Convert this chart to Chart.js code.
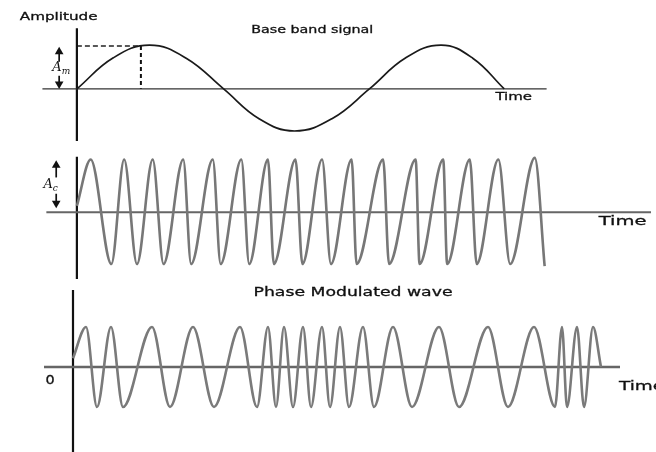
<!DOCTYPE html>
<html>
<head>
<meta charset="utf-8">
<title>Phase Modulation</title>
<script src="https://cdn.jsdelivr.net/npm/chart.js@4/dist/chart.umd.min.js"></script>
<style>
  html, body { margin: 0; padding: 0; background: #fff; }
  #wrap { position: relative; width: 656px; height: 452px; overflow: hidden; }
  #wrap canvas { position: absolute; left: 0; }
</style>
</head>
<body>
<div id="wrap">
  <canvas id="baseband" width="656" height="148" style="top:0"></canvas>
  <canvas id="carrier" width="656" height="136" style="top:148px"></canvas>
  <canvas id="pm" width="656" height="168" style="top:284px"></canvas>
</div>
<script>
// Signal en bande de base (temps relatif à l'axe vertical, amplitude en A_m)
const basebandTime = [0, 37, 74, 111, 149, 185, 221, 259, 297, 334, 370, 402, 434];
const basebandAmp  = [0, 0.71, 1, 0.7, 0, -0.68, -0.96, -0.68, 0, 0.71, 1, 0.7, 0];

// Porteuse : sommets et creux (amplitude en A_c)
const carrierTime = [0, 14, 35, 48, 61, 77, 88, 108, 116, 138, 146, 167, 175, 194, 200,
  222, 229, 249, 258, 279, 284, 311, 317, 344, 348, 372, 376, 399, 406, 428, 440, 465, 475];
const carrierAmp = [0.12, 1, -0.98, 1, -0.98, 1, -0.98, 1, -0.98, 1, -0.98, 1, -0.98, 1, -0.98,
  1, -0.98, 1, -0.98, 1, -0.98, 1, -0.98, 1, -0.98, 1, -0.98, 1, -0.98, 1, -0.98, 1.03, -1.02];

// Onde modulée en phase
const pmTime = [0, 13, 24, 38, 50, 79, 97, 120, 141, 167, 184, 195, 203, 211, 220, 230, 238,
  249, 257, 267, 276, 290, 301, 320, 339, 366, 386, 415, 435, 461, 482, 489, 494, 504, 511, 520, 528];
const pmAmp = [0.22, 1, -1, 1, -1, 1, -1, 1, -1, 1, -1, 1, -1, 1, -1, 1, -1,
  1, -1, 1, -1, 1, -1, 1, -1, 1, -1, 1, -1, 1, -1, 1, -1, 1, -1, 1, 0];

const FONT = '"DejaVu Sans", Verdana, sans-serif';
const MATH = 'italic 13px "DejaVu Serif", serif';
const MATH_SUB = 'italic 9px "DejaVu Serif", serif';

/**
 * Construit un dataset ligne à partir de deux tableaux
 */
function serie(times, amps, style) {
  return Object.assign({
    data: times.map((t, i) => ({ x: t, y: amps[i] })),
    pointRadius: 0,
    fill: false,
    tension: 0
  }, style);
}

/**
 * Flèche verticale : trait + pointe triangulaire au bout
 */
function fleche(t, from, to, up) {
  return serie([t, t], [from, to], {
    borderColor: '#111',
    borderWidth: 1.7,
    pointRadius: [0, 5],
    pointStyle: 'triangle',
    pointRotation: up ? 0 : 180,
    pointBackgroundColor: '#111',
    pointBorderWidth: 0
  });
}

/**
 * Plugin qui écrit les textes positionnés sur les échelles du graphique
 */
function textes(items) {
  return {
    id: 'textes',
    afterDatasetsDraw(chart) {
      const ctx = chart.ctx;
      const xs = chart.scales.x, ys = chart.scales.y;
      items.forEach(it => {
        const px = xs.getPixelForValue(it.t);
        const py = ys.getPixelForValue(it.v);
        ctx.save();
        ctx.translate(px, py);
        ctx.scale(it.sx || 1, 1);
        ctx.font = it.font;
        ctx.fillStyle = '#111';
        ctx.strokeStyle = '#111';
        ctx.lineWidth = 0.3;
        ctx.textAlign = it.align || 'left';
        ctx.textBaseline = 'middle';
        ctx.fillText(it.text, 0, 0);
        if (!it.sub) ctx.strokeText(it.text, 0, 0);
        if (it.sub) {
          const w = ctx.measureText(it.text).width;
          ctx.font = MATH_SUB;
          ctx.fillText(it.sub, w, 4);
        }
        ctx.restore();
      });
    }
  };
}

function panneau(id, yMin, yMax, datasets, labels) {
  return new Chart(document.getElementById(id), {
    type: 'line',
    data: { datasets: datasets },
    options: {
      responsive: false,
      animation: false,
      events: [],
      layout: { padding: 0 },
      plugins: { legend: { display: false }, tooltip: { enabled: false } },
      scales: {
        x: { type: 'linear', min: -73, max: 583, display: false },
        y: { type: 'linear', min: yMin, max: yMax, display: false }
      }
    },
    plugins: [textes(labels)]
  });
}

// Panneau 1 : bande de base
panneau('baseband', -1.234, 1.915, [
  serie(basebandTime, basebandAmp, { borderColor: '#1a1a1a', borderWidth: 1.7, tension: 0.42 }),
  serie([-35, 477], [0, 0], { borderColor: '#333', borderWidth: 1.2 }),
  serie([0, 0], [1.383, -1.19], { borderColor: '#111', borderWidth: 2.2 }),
  serie([0, 65], [0.98, 0.98], { borderColor: '#222', borderWidth: 1.4, borderDash: [5, 3] }),
  serie([65, 65], [0.98, 0], { borderColor: '#111', borderWidth: 2, borderDash: [4, 3] }),
  fleche(-18, 0.62, 0.85, true),
  fleche(-18, 0.3, 0.11, false)
], [
  { text: 'Amplitude', t: -58, v: 1.63, font: '11px ' + FONT, sx: 1.38 },
  { text: 'Base band signal', t: 239, v: 1.33, font: '11px ' + FONT, sx: 1.3, align: 'center' },
  { text: 'Time', t: 425, v: -0.19, font: '11px ' + FONT, sx: 1.36 },
  { text: 'A', sub: 'm', t: -25, v: 0.49, font: MATH }
]);

// Panneau 2 : porteuse
panneau('carrier', -1.263, 1.123, [
  serie(carrierTime, carrierAmp, { borderColor: '#777', borderWidth: 2.6, cubicInterpolationMode: 'monotone' }),
  serie([-31, 583], [0, 0], { borderColor: '#666', borderWidth: 2 }),
  serie([0, 0], [1.05, -1.263], { borderColor: '#111', borderWidth: 2.2 }),
  fleche(-21, 0.66, 0.89, true),
  fleche(-21, 0.35, 0.17, false)
], [
  { text: 'A', sub: 'c', t: -34, v: 0.53, font: MATH },
  { text: 'Time', t: 530, v: -0.175, font: '13px ' + FONT, sx: 1.5 }
]);

// Panneau 3 : onde modulée en phase
panneau('pm', -2.125, 2.075, [
  serie(pmTime, pmAmp, { borderColor: '#7a7a7a', borderWidth: 2.6, cubicInterpolationMode: 'monotone' }),
  serie([-29, 547], [0, 0], { borderColor: '#666', borderWidth: 2.4 }),
  serie([0, 0], [1.925, -2.125], { borderColor: '#111', borderWidth: 2.2 })
], [
  { text: 'Phase Modulated wave', t: 280, v: 1.85, font: '12.5px ' + FONT, sx: 1.38, align: 'center' },
  { text: '0', t: -23, v: -0.34, font: '12px ' + FONT, sx: 1.2, align: 'center' },
  { text: 'Time', t: 546, v: -0.5, font: '13px ' + FONT, sx: 1.42 }
]);
</script>
</body>
</html>
